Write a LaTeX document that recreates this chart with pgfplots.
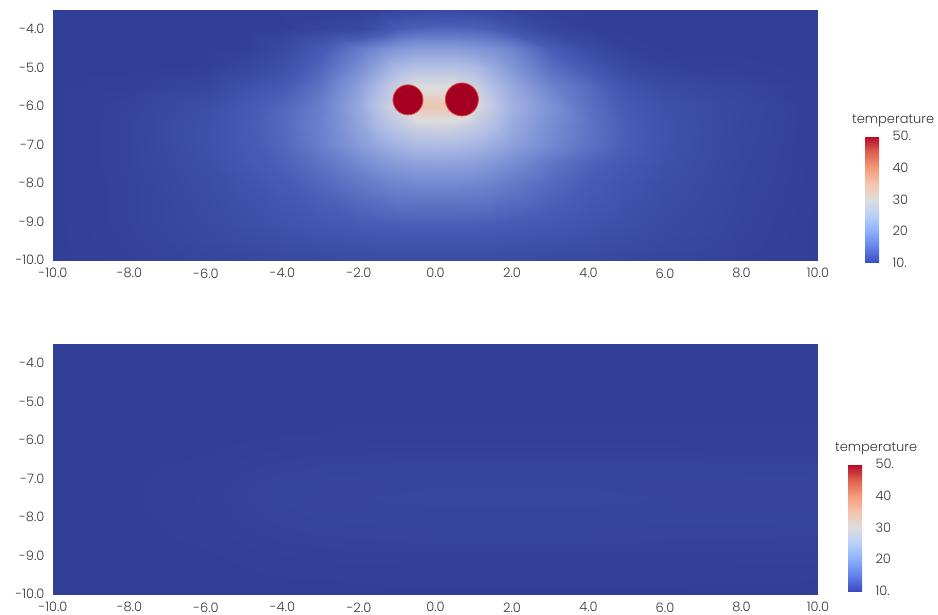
\documentclass[border=0pt]{standalone}
\usepackage{pgfplots}
\pgfplotsset{compat=1.18}
\usepackage{fontspec}
\setmainfont{Poppins Light}
\definecolor{txt}{RGB}{55,55,55}
\definecolor{circred}{RGB}{165,0,33}
\definecolor{circedge}{RGB}{215,70,60}
\pgfplotsset{
  colormap={fieldmap}{rgb255=(50,63,152) rgb255=(72,92,182) rgb255=(120,142,212) rgb255=(172,186,228) rgb255=(222,220,222) rgb255=(240,192,165) rgb255=(236,145,115) rgb255=(208,75,68) rgb255=(165,0,33)},
  colormap={cbmap}{rgb255=(59,76,192) rgb255=(98,130,234) rgb255=(141,176,254) rgb255=(184,208,249) rgb255=(221,221,221) rgb255=(245,196,173) rgb255=(244,154,123) rgb255=(222,96,77) rgb255=(180,4,38)},
  field/.style={
    x=38.25bp, y=38.5bp,
    xmin=-10, xmax=10, ymin=-10, ymax=-3.5,
    enlargelimits=false,
    axis line style={draw=none},
    major tick length=0pt,
    xtick={-10,-8,...,10},
    xticklabels={-10.0,-8.0,-6.0,-4.0,-2.0,0.0,2.0,4.0,6.0,8.0,10.0},
    ytick={-10,-9,...,-4},
    yticklabels={-10.0,-9.0,-8.0,-7.0,-6.0,-5.0,-4.0},
    tick label style={font=\fontsize{13bp}{15bp}\selectfont, text=txt},
    yticklabel style={xshift=-5bp},
    xticklabel style={yshift=-5bp},
    colormap name=fieldmap,
    point meta min=10, point meta max=50,
    colorbar,
    colorbar style={
      colormap name=cbmap,
      width=16bp, height=127bp,
      at={(parent axis.south east)}, anchor=south west,
      ytick={10,20,30,40,50},
      yticklabels={10.,20,30,40,50.},
      major tick length=0pt,
      axis line style={draw=none},
      yticklabel style={xshift=8bp, font=\fontsize{13bp}{15bp}\selectfont, text=txt},
      title={temperature},
      title style={at={(0,1)}, anchor=south west, inner sep=0pt, xshift=-13bp, yshift=3bp, font=\fontsize{13bp}{15bp}\selectfont, text=txt},
    },
  },
}
\begin{document}
\begin{tikzpicture}
\useasboundingbox (-53bp,-355bp) rectangle (885bp,260bp);
\begin{axis}[field, at={(0bp,0bp)}, anchor=south west,
  colorbar shift/.style={xshift=47bp, yshift=-3bp}]
\addplot[surf, shader=interp, point meta=explicit, mesh/cols=21, mesh/rows=13] coordinates {
(-10,-10)[10] (-8,-10)[10.4] (-6,-10)[10.9] (-5,-10)[11.2] (-4,-10)[11.5] (-3,-10)[11.8] (-2,-10)[12] (-1.5,-10)[12.1] (-1,-10)[12.2] (-0.5,-10)[12.2] (0,-10)[12.2] (0.5,-10)[12.2] (1,-10)[12.2] (1.5,-10)[12.1] (2,-10)[12] (3,-10)[11.8] (4,-10)[11.5] (5,-10)[11.2] (6,-10)[10.9] (8,-10)[10.4] (10,-10)[10]
(-10,-9.5)[10] (-8,-9.5)[10.5] (-6,-9.5)[11.4] (-5,-9.5)[12] (-4,-9.5)[12.5] (-3,-9.5)[13] (-2,-9.5)[13.3] (-1.5,-9.5)[13.4] (-1,-9.5)[13.5] (-0.5,-9.5)[13.5] (0,-9.5)[13.5] (0.5,-9.5)[13.5] (1,-9.5)[13.5] (1.5,-9.5)[13.4] (2,-9.5)[13.3] (3,-9.5)[13] (4,-9.5)[12.6] (5,-9.5)[12.1] (6,-9.5)[11.5] (8,-9.5)[10.6] (10,-9.5)[10]
(-10,-9)[10] (-8,-9)[10.6] (-6,-9)[11.8] (-5,-9)[12.6] (-4,-9)[13.4] (-3,-9)[14.2] (-2,-9)[14.9] (-1.5,-9)[15.2] (-1,-9)[15.4] (-0.5,-9)[15.5] (0,-9)[15.5] (0.5,-9)[15.5] (1,-9)[15.4] (1.5,-9)[15.2] (2,-9)[14.9] (3,-9)[14.3] (4,-9)[13.5] (5,-9)[12.7] (6,-9)[11.9] (8,-9)[10.7] (10,-9)[10]
(-10,-8)[10] (-8,-8)[10.6] (-6,-8)[12.3] (-5,-8)[13.4] (-4,-8)[14.6] (-3,-8)[16.2] (-2,-8)[17.8] (-1.5,-8)[18.6] (-1,-8)[19.2] (-0.5,-8)[19.5] (0,-8)[19.5] (0.5,-8)[19.5] (1,-8)[19.3] (1.5,-8)[18.8] (2,-8)[18] (3,-8)[16.4] (4,-8)[14.8] (5,-8)[13.6] (6,-8)[12.5] (8,-8)[10.9] (10,-8)[10.1]
(-10,-7.5)[10] (-8,-7.5)[10.7] (-6,-7.5)[12.7] (-5,-7.5)[14] (-4,-7.5)[15.4] (-3,-7.5)[17.2] (-2,-7.5)[19.5] (-1.5,-7.5)[20.6] (-1,-7.5)[21.5] (-0.5,-7.5)[22] (0,-7.5)[22.2] (0.5,-7.5)[22] (1,-7.5)[21.7] (1.5,-7.5)[20.9] (2,-7.5)[19.8] (3,-7.5)[17.5] (4,-7.5)[15.6] (5,-7.5)[14.2] (6,-7.5)[13] (8,-7.5)[11] (10,-7.5)[10.1]
(-10,-7)[10] (-8,-7)[10.7] (-6,-7)[13] (-5,-7)[14.5] (-4,-7)[16] (-3,-7)[18.5] (-2,-7)[21.5] (-1.5,-7)[23] (-1,-7)[24.2] (-0.5,-7)[25] (0,-7)[25.2] (0.5,-7)[25] (1,-7)[24.5] (1.5,-7)[23.3] (2,-7)[22] (3,-7)[19.5] (4,-7)[17.2] (5,-7)[15] (6,-7)[13.3] (8,-7)[11.1] (10,-7)[10.1]
(-10,-6.5)[10] (-8,-6.5)[10.7] (-6,-6.5)[13] (-5,-6.5)[14.6] (-4,-6.5)[16.3] (-3,-6.5)[18.8] (-2,-6.5)[22.5] (-1.5,-6.5)[25] (-1,-6.5)[27] (-0.5,-6.5)[28.5] (0,-6.5)[29] (0.5,-6.5)[28.5] (1,-6.5)[27.5] (1.5,-6.5)[25.5] (2,-6.5)[23.2] (3,-6.5)[20] (4,-6.5)[17.3] (5,-6.5)[15] (6,-6.5)[13.3] (8,-6.5)[11.2] (10,-6.5)[10.1]
(-10,-6)[10] (-8,-6)[10.6] (-6,-6)[12.5] (-5,-6)[14.3] (-4,-6)[16] (-3,-6)[18.5] (-2,-6)[23] (-1.5,-6)[26.5] (-1,-6)[29] (-0.5,-6)[34] (0,-6)[34] (0.5,-6)[34] (1,-6)[29.5] (1.5,-6)[27] (2,-6)[24] (3,-6)[20.5] (4,-6)[17] (5,-6)[14.5] (6,-6)[13] (8,-6)[11.3] (10,-6)[10.1]
(-10,-5.5)[10] (-8,-5.5)[10.2] (-6,-5.5)[11] (-5,-5.5)[13] (-4,-5.5)[14.5] (-3,-5.5)[17.5] (-2,-5.5)[22] (-1.5,-5.5)[25] (-1,-5.5)[28] (-0.5,-5.5)[30] (0,-5.5)[30] (0.5,-5.5)[30] (1,-5.5)[28.5] (1.5,-5.5)[25.5] (2,-5.5)[23] (3,-5.5)[19] (4,-5.5)[16.5] (5,-5.5)[13.5] (6,-5.5)[12] (8,-5.5)[10.8] (10,-5.5)[10.1]
(-10,-5)[10] (-8,-5)[10] (-6,-5)[10.1] (-5,-5)[11] (-4,-5)[12.8] (-3,-5)[16] (-2,-5)[20] (-1.5,-5)[22.5] (-1,-5)[25] (-0.5,-5)[26] (0,-5)[26] (0.5,-5)[26] (1,-5)[25.3] (1.5,-5)[23.3] (2,-5)[21] (3,-5)[17] (4,-5)[14.5] (5,-5)[11.5] (6,-5)[10.5] (8,-5)[10.2] (10,-5)[10]
(-10,-4.5)[10] (-8,-4.5)[10] (-6,-4.5)[10] (-5,-4.5)[10.1] (-4,-4.5)[11.5] (-3,-4.5)[14.5] (-2,-4.5)[18] (-1.5,-4.5)[19.5] (-1,-4.5)[20.8] (-0.5,-4.5)[21.5] (0,-4.5)[21.5] (0.5,-4.5)[21.5] (1,-4.5)[21] (1.5,-4.5)[20.2] (2,-4.5)[19] (3,-4.5)[15] (4,-4.5)[12] (5,-4.5)[10.3] (6,-4.5)[10] (8,-4.5)[10] (10,-4.5)[10]
(-10,-4)[10] (-8,-4)[10] (-6,-4)[10] (-5,-4)[10] (-4,-4)[10.1] (-3,-4)[10.8] (-2,-4)[11.5] (-1.5,-4)[13] (-1,-4)[15] (-0.5,-4)[15.8] (0,-4)[16] (0.5,-4)[16] (1,-4)[15.8] (1.5,-4)[15] (2,-4)[13.5] (3,-4)[11] (4,-4)[10.1] (5,-4)[10] (6,-4)[10] (8,-4)[10] (10,-4)[10]
(-10,-3.5)[10] (-8,-3.5)[10] (-6,-3.5)[10] (-5,-3.5)[10] (-4,-3.5)[10] (-3,-3.5)[10] (-2,-3.5)[10.3] (-1.5,-3.5)[10.6] (-1,-3.5)[11] (-0.5,-3.5)[11.5] (0,-3.5)[11.8] (0.5,-3.5)[11.8] (1,-3.5)[11.6] (1.5,-3.5)[11.2] (2,-3.5)[10.8] (3,-3.5)[10.2] (4,-3.5)[10] (5,-3.5)[10] (6,-3.5)[10] (8,-3.5)[10] (10,-3.5)[10]
};
\addplot[only marks, mark=*, mark size=15bp, mark options={fill=circred, draw=circedge, line width=0.8bp}] coordinates {(-0.72,-5.84)};
\addplot[only marks, mark=*, mark size=16.5bp, mark options={fill=circred, draw=circedge, line width=0.8bp}] coordinates {(0.69,-5.83)};
\end{axis}
\begin{axis}[field, at={(0bp,-334bp)}, anchor=south west,
  colorbar shift/.style={xshift=30bp, yshift=3bp}]
\addplot[surf, shader=interp, point meta=explicit, mesh/cols=13, mesh/rows=11] coordinates {
(-10,-10)[10] (-8,-10)[10] (-6,-10)[10] (-5,-10)[10] (-4,-10)[10] (-3,-10)[10.02] (-2,-10)[10.03] (0,-10)[10.05] (2,-10)[10.05] (4,-10)[10.05] (6,-10)[10.05] (8,-10)[10.03] (10,-10)[10.02]
(-10,-9.5)[10] (-8,-9.5)[10] (-6,-9.5)[10] (-5,-9.5)[10.05] (-4,-9.5)[10.1] (-3,-9.5)[10.1] (-2,-9.5)[10.15] (0,-9.5)[10.15] (2,-9.5)[10.15] (4,-9.5)[10.15] (6,-9.5)[10.15] (8,-9.5)[10.15] (10,-9.5)[10.1]
(-10,-9)[10] (-8,-9)[10] (-6,-9)[10.05] (-5,-9)[10.15] (-4,-9)[10.25] (-3,-9)[10.3] (-2,-9)[10.35] (0,-9)[10.4] (2,-9)[10.4] (4,-9)[10.4] (6,-9)[10.4] (8,-9)[10.35] (10,-9)[10.35]
(-10,-8.5)[10] (-8,-8.5)[10.02] (-6,-8.5)[10.15] (-5,-8.5)[10.35] (-4,-8.5)[10.5] (-3,-8.5)[10.6] (-2,-8.5)[10.65] (0,-8.5)[10.7] (2,-8.5)[10.7] (4,-8.5)[10.7] (6,-8.5)[10.65] (8,-8.5)[10.65] (10,-8.5)[10.6]
(-10,-8)[10] (-8,-8)[10.03] (-6,-8)[10.25] (-5,-8)[10.5] (-4,-8)[10.7] (-3,-8)[10.8] (-2,-8)[10.85] (0,-8)[10.9] (2,-8)[10.9] (4,-8)[10.9] (6,-8)[10.85] (8,-8)[10.85] (10,-8)[10.8]
(-10,-7.5)[10] (-8,-7.5)[10.05] (-6,-7.5)[10.3] (-5,-7.5)[10.6] (-4,-7.5)[10.8] (-3,-7.5)[10.9] (-2,-7.5)[10.95] (0,-7.5)[11] (2,-7.5)[11] (4,-7.5)[11] (6,-7.5)[10.95] (8,-7.5)[10.9] (10,-7.5)[10.9]
(-10,-7)[10] (-8,-7)[10.03] (-6,-7)[10.25] (-5,-7)[10.5] (-4,-7)[10.7] (-3,-7)[10.8] (-2,-7)[10.85] (0,-7)[10.9] (2,-7)[10.9] (4,-7)[10.9] (6,-7)[10.85] (8,-7)[10.85] (10,-7)[10.8]
(-10,-6.5)[10] (-8,-6.5)[10] (-6,-6.5)[10.1] (-5,-6.5)[10.25] (-4,-6.5)[10.4] (-3,-6.5)[10.5] (-2,-6.5)[10.55] (0,-6.5)[10.6] (2,-6.5)[10.6] (4,-6.5)[10.6] (6,-6.5)[10.6] (8,-6.5)[10.55] (10,-6.5)[10.55]
(-10,-6)[10] (-8,-6)[10] (-6,-6)[10] (-5,-6)[10.05] (-4,-6)[10.1] (-3,-6)[10.1] (-2,-6)[10.15] (0,-6)[10.15] (2,-6)[10.15] (4,-6)[10.15] (6,-6)[10.15] (8,-6)[10.15] (10,-6)[10.15]
(-10,-5)[10] (-8,-5)[10] (-6,-5)[10] (-5,-5)[10] (-4,-5)[10] (-3,-5)[10] (-2,-5)[10] (0,-5)[10] (2,-5)[10] (4,-5)[10] (6,-5)[10] (8,-5)[10] (10,-5)[10]
(-10,-3.5)[10] (-8,-3.5)[10] (-6,-3.5)[10] (-5,-3.5)[10] (-4,-3.5)[10] (-3,-3.5)[10] (-2,-3.5)[10] (0,-3.5)[10] (2,-3.5)[10] (4,-3.5)[10] (6,-3.5)[10] (8,-3.5)[10] (10,-3.5)[10]
};
\end{axis}
\end{tikzpicture}
\end{document}
